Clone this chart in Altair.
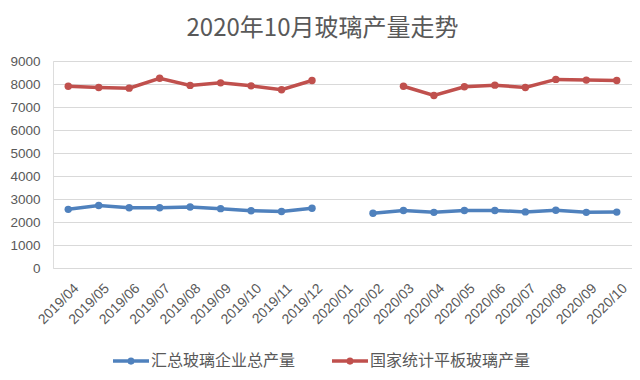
import altair as alt
import pandas as pd

months = ["2019/04", "2019/05", "2019/06", "2019/07", "2019/08", "2019/09", "2019/10",
          "2019/11", "2019/12", "2020/01", "2020/02", "2020/03", "2020/04", "2020/05",
          "2020/06", "2020/07", "2020/08", "2020/09", "2020/10"]
total_output = [2550, 2720, 2620, 2620, 2650, 2580, 2490, 2460, 2600, None, 2380,
                2500, 2420, 2500, 2500, 2440, 2510, 2420, 2430]
flat_glass = [7900, 7850, 7820, 8250, 7940, 8050, 7920, 7750, 8150, None, None,
              7900, 7500, 7880, 7950, 7850, 8200, 8170, 8150]
series_names = ["汇总玻璃企业总产量", "国家统计平板玻璃产量"]
series_colors = ["#4F81BD", "#C0504D"]
y_ticks = [0, 1000, 2000, 3000, 4000, 5000, 6000, 7000, 8000, 9000]

df = pd.DataFrame({"month": months, series_names[0]: total_output, series_names[1]: flat_glass})

base = alt.Chart(df).transform_fold(series_names, as_=["series", "value"])

x = alt.X("month:O", sort=months, title=None,
          axis=alt.Axis(labelAngle=-45, labelFontSize=14, labelColor="#595959",
                        labelFont="Liberation Sans", ticks=False, domain=False,
                        labelPadding=13, labelOffset=3, grid=False))
y = alt.Y("value:Q", title=None, scale=alt.Scale(domain=[0, 9000], nice=False),
          axis=alt.Axis(values=y_ticks, format="d", labelFontSize=13.5, labelColor="#595959",
                        labelFont="Liberation Sans", ticks=False, domain=False,
                        labelPadding=13, gridColor="#D9D9D9", gridWidth=1))
color = alt.Color("series:N", sort=series_names,
                  scale=alt.Scale(domain=series_names, range=series_colors),
                  legend=alt.Legend(title=None, orient="none", direction="horizontal",
                                    legendX=58, legendY=280,
                                    symbolType="M-1,0H1M-0.1,0A0.1,0.1 0 1,0 0.1,0A0.1,0.1 0 1,0 -0.1,0Z",
                                    symbolSize=1296, symbolStrokeWidth=3.5,
                                    labelFont="Noto Sans CJK SC", labelFontSize=16,
                                    labelColor="#595959", labelOffset=0, labelLimit=400,
                                    columnPadding=29))

lines = base.mark_line(strokeWidth=3.5, invalid="break-paths-filter-domains").encode(
    x=x, y=y, color=color)
points = base.mark_point(filled=True, size=55, opacity=1, invalid="break-paths-filter-domains").encode(
    x=x, y=y, color=alt.Color("series:N", sort=series_names,
                              scale=alt.Scale(domain=series_names, range=series_colors),
                              legend=None))

chart = alt.layer(lines, points).properties(
    width=579, height=207,
    autosize=alt.AutoSizeParams(type="none"),
    padding={"left": 45, "top": 53, "right": 0, "bottom": 104},
    title=alt.TitleParams(text="2020年10月玻璃产量走势", font="Noto Sans CJK SC",
                          fontSize=24, fontWeight="normal", color="#595959",
                          anchor="middle", frame="group", dx=-20, offset=16, dy=27,
                          baseline="bottom"),
).configure_view(stroke=None).configure(background="white")

chart.save("out.html", embed_options={"renderer": "svg", "actions": False})
